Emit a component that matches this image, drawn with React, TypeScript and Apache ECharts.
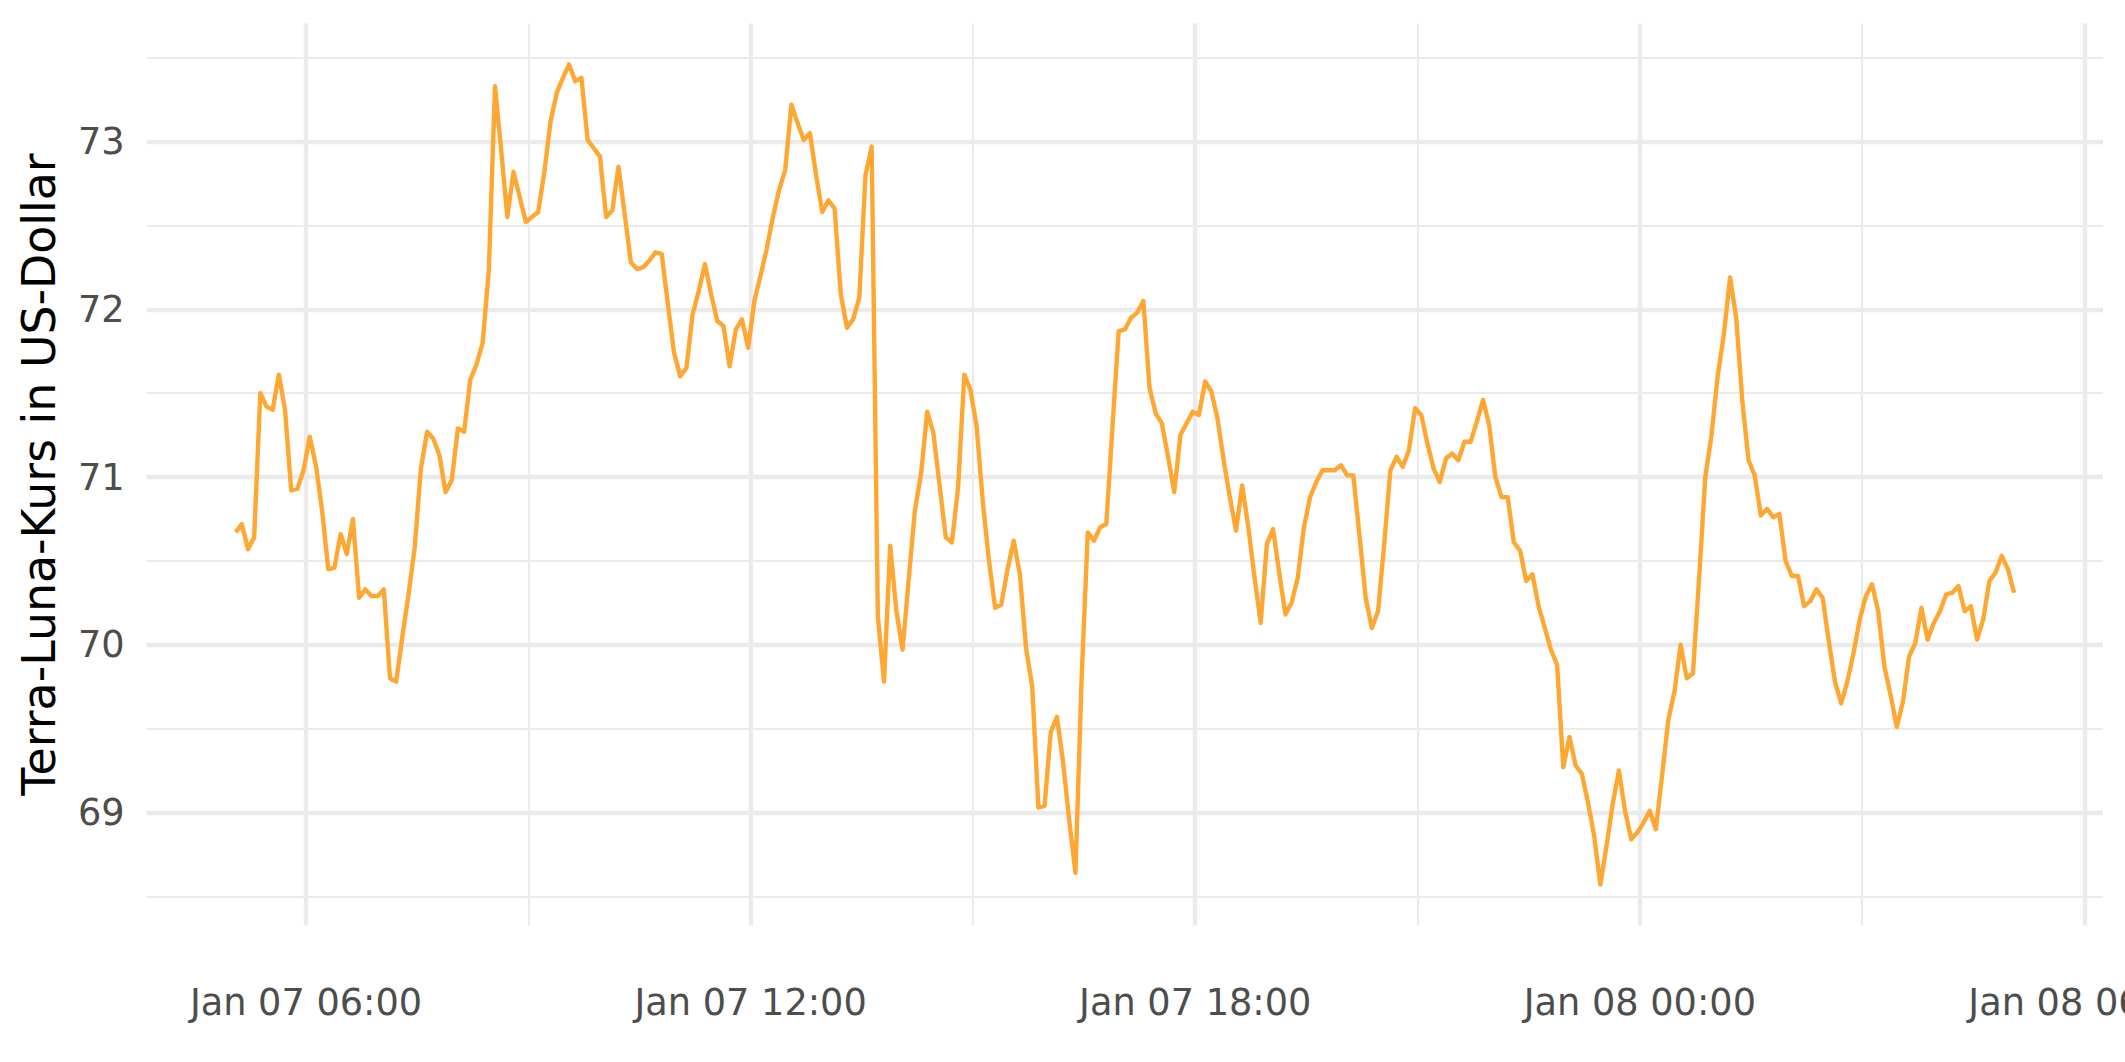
import React, { useEffect, useRef } from "react";
import * as echarts from "echarts";

// Terra-Luna price, 5-minute samples starting Jan 07 05:03
const startHour = 5 + 3 / 60;
const stepMinutes = 5;
const prices: number[] = [
  70.67, 70.72, 70.57, 70.64, 71.5, 71.42, 71.4, 71.61, 71.4, 70.92,
  70.93, 71.04, 71.24, 71.07, 70.8, 70.45, 70.46, 70.66, 70.54, 70.75,
  70.28, 70.33, 70.29, 70.29, 70.33, 69.8, 69.78, 70.05, 70.3, 70.58,
  71.05, 71.27, 71.23, 71.13, 70.91, 70.98, 71.29, 71.27, 71.58, 71.67,
  71.8, 72.23, 73.33, 72.95, 72.55, 72.82, 72.67, 72.52, 72.55, 72.58,
  72.82, 73.12, 73.29, 73.38, 73.46, 73.36, 73.38, 73.01, 72.96, 72.91,
  72.55, 72.59, 72.85, 72.57, 72.28, 72.24, 72.25, 72.29, 72.34, 72.33,
  72.03, 71.74, 71.6, 71.65, 71.97, 72.11, 72.27, 72.09, 71.93, 71.9,
  71.66, 71.88, 71.94, 71.77, 72.05, 72.2, 72.36, 72.55, 72.71, 72.83,
  73.22, 73.11, 73.01, 73.05, 72.8, 72.58, 72.65, 72.6, 72.09, 71.89,
  71.94, 72.07, 72.8, 72.97, 70.17, 69.78, 70.59, 70.2, 69.97, 70.39,
  70.8, 71.02, 71.39, 71.26, 70.95, 70.64, 70.61, 70.94, 71.61, 71.52,
  71.3, 70.85, 70.5, 70.22, 70.24, 70.45, 70.62, 70.42, 69.98, 69.75,
  69.03, 69.04, 69.48, 69.57, 69.3, 68.95, 68.64, 69.8, 70.67, 70.62,
  70.7, 70.72, 71.3, 71.87, 71.88, 71.95, 71.98, 72.05, 71.53, 71.38,
  71.32, 71.12, 70.91, 71.25, 71.32, 71.39, 71.37, 71.57, 71.51, 71.35,
  71.1, 70.88, 70.68, 70.95, 70.7, 70.4, 70.13, 70.6, 70.69, 70.43,
  70.18, 70.25, 70.4, 70.7, 70.88, 70.97, 71.04, 71.04, 71.04, 71.07,
  71.01, 71.01, 70.65, 70.28, 70.1, 70.2, 70.6, 71.04, 71.12, 71.06,
  71.16, 71.41, 71.37, 71.2, 71.05, 70.97, 71.11, 71.14, 71.1, 71.21,
  71.21, 71.33, 71.46, 71.31, 71.0, 70.88, 70.88, 70.61, 70.56, 70.38,
  70.42, 70.23, 70.1, 69.97, 69.88, 69.27, 69.45, 69.28, 69.23, 69.06,
  68.86, 68.57, 68.8, 69.05, 69.25, 69.01, 68.84, 68.88, 68.94, 69.01,
  68.9, 69.22, 69.55, 69.72, 70.0, 69.8, 69.83, 70.4, 71.0, 71.25,
  71.6, 71.85, 72.19, 71.95, 71.45, 71.1, 71.01, 70.77, 70.81, 70.76,
  70.78, 70.5, 70.41, 70.41, 70.23, 70.26, 70.33, 70.28, 70.02, 69.78,
  69.65, 69.78, 69.95, 70.15, 70.29, 70.36, 70.2, 69.87, 69.7, 69.51,
  69.66, 69.93, 70.01, 70.22, 70.03, 70.13, 70.2, 70.3, 70.31, 70.35,
  70.2, 70.23, 70.03, 70.15, 70.38, 70.43, 70.53, 70.45, 70.31,
];

const xTickHours = [6, 12, 18, 24, 30];
const xTickLabels = ["Jan 07 06:00", "Jan 07 12:00", "Jan 07 18:00", "Jan 08 00:00", "Jan 08 06:00"];
const xMinorHours = [9, 15, 21, 27];
const yTicks = [69, 70, 71, 72, 73];
const yMinorTicks = [68.5, 69.5, 70.5, 71.5, 72.5, 73.5];
const yTitle = "Terra-Luna-Kurs in US-Dollar";

const FONT = "DejaVu Sans";
const GRID_COLOR = "#EBEBEB";

export default function App() {
  const ref = useRef<HTMLDivElement>(null);
  useEffect(() => {
    document.body.style.margin = "0";
    const chart = echarts.init(ref.current!, null, { renderer: "svg" });
    const data = prices.map((v, i) => [startHour + (i * stepMinutes) / 60, v]);
    const x0 = data[0][0];
    const x1 = data[data.length - 1][0];
    const xPad = (x1 - x0) * 0.05;
    const yLo = Math.min(...prices);
    const yHi = Math.max(...prices);
    const yPad = (yHi - yLo) * 0.05;
    const xMin = x0 - xPad;
    const xMax = x1 + xPad;
    const yMin = yLo - yPad;
    const yMax = yHi + yPad;

    const labelFor = (v: number) => {
      const k = xTickHours.findIndex((h) => Math.abs(h - v) < 1e-6);
      return k >= 0 ? xTickLabels[k] : "";
    };

    chart.setOption({
      animation: false,
      backgroundColor: "#FFFFFF",
      grid: {
        left: 146.7,
        right: 22,
        top: 23.4,
        bottom: 136.4,
        containLabel: false,
        outerBoundsMode: "none",
      },
      xAxis: [
        {
          type: "value",
          min: xMin,
          max: xMax,
          position: "bottom",
          axisLine: { show: false },
          axisTick: { show: false, customValues: xTickHours },
          axisLabel: {
            customValues: xTickHours,
            formatter: (v: number) => labelFor(v),
            color: "#4D4D4D",
            fontSize: 36.7,
            fontFamily: FONT,
            margin: 58,
            hideOverlap: false,
          },
          splitLine: { show: true, lineStyle: { color: GRID_COLOR, width: 4.4 } },
        },
        {
          type: "value",
          min: xMin,
          max: xMax,
          position: "top",
          axisLine: { show: false },
          axisTick: { show: false, customValues: xMinorHours },
          axisLabel: { show: false, customValues: xMinorHours },
          splitLine: { show: true, lineStyle: { color: GRID_COLOR, width: 2.2 } },
        },
      ],
      yAxis: [
        {
          type: "value",
          min: yMin,
          max: yMax,
          position: "left",
          axisLine: { show: false },
          axisTick: { show: false, customValues: yTicks },
          axisLabel: {
            customValues: yTicks,
            formatter: (v: number) => String(Math.round(v)),
            color: "#4D4D4D",
            fontSize: 36.7,
            fontFamily: FONT,
            margin: 22,
          },
          splitLine: { show: true, lineStyle: { color: GRID_COLOR, width: 4.4 } },
        },
        {
          type: "value",
          min: yMin,
          max: yMax,
          position: "right",
          axisLine: { show: false },
          axisTick: { show: false, customValues: yMinorTicks },
          axisLabel: { show: false, customValues: yMinorTicks },
          splitLine: { show: true, lineStyle: { color: GRID_COLOR, width: 2.2 } },
        },
      ],
      graphic: [
        {
          type: "text",
          x: 39,
          y: 474.5,
          rotation: Math.PI / 2,
          style: {
            text: yTitle,
            fontSize: 45.8,
            fontFamily: FONT,
            fill: "#000000",
            align: "center",
            verticalAlign: "middle",
          },
        },
      ],
      series: [
        {
          type: "line",
          xAxisIndex: 0,
          yAxisIndex: 0,
          data,
          showSymbol: false,
          symbol: "none",
          z: 5,
          lineStyle: { color: "#FFA733", width: 4.4, join: "round", cap: "butt" },
        },
      ],
    });
    return () => chart.dispose();
  }, []);
  return <div ref={ref} style={{ position: "fixed", left: 0, top: 0, width: 2125, height: 1062 }} />;
}
